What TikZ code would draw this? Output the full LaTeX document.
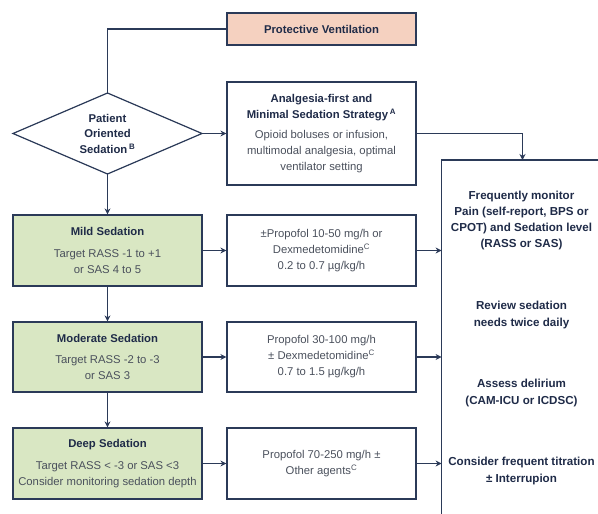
\documentclass[tikz,border=0pt]{standalone}
\usepackage{fontspec}
\setmainfont{Liberation Sans}
\usetikzlibrary{arrows.meta}
\definecolor{navy}{HTML}{2B3A58}
\definecolor{ttl}{HTML}{1F2B48}
\definecolor{bodyc}{HTML}{4A505C}
\definecolor{greenf}{HTML}{D9E7C3}
\definecolor{salmon}{HTML}{F5D1C0}
\begin{document}
\begin{tikzpicture}[x=1pt,y=-1pt,
  box/.style={draw=navy,line width=1.2pt,minimum width=189pt,inner sep=0pt,align=center,
    font=\fontsize{11.3}{16}\selectfont,text=bodyc},
  greenbox/.style={box,fill=greenf},
  txt/.style={align=center,inner sep=0pt,font=\fontsize{11.6}{16.3}\selectfont\bfseries,text=ttl},
  conn/.style={draw=navy,line width=1.2pt},
  arr/.style={conn,-{Stealth[length=6pt,width=6pt]}}
]
\useasboundingbox (0,0) rectangle (598,514);
\newcommand{\ttlt}[1]{{\bfseries\color{ttl}#1}}

% top boxes
\node[box,fill=salmon,minimum height=32pt] (pv) at (321.5,29) {\ttlt{Protective Ventilation}};
\node[box,minimum height=103pt] (ana) at (321.5,133.5)
  {\ttlt{Analgesia-first and}\\\ttlt{Minimal Sedation Strategy\,\textsuperscript{A}}\\[3.5pt]
   Opioid boluses or infusion,\\multimodal analgesia, optimal\\ventilator setting};

% diamond
\draw[conn,fill=white] (13,133.5) -- (107.5,93) -- (202,133.5) -- (107.5,174) -- cycle;
\node[inner sep=0pt,minimum width=189pt,minimum height=81pt] (dia) at (107.5,133.5) {};
\node[txt,font=\fontsize{11.3}{15.5}\selectfont\bfseries] (diat) at (107.5,133.5)
  {Patient\\Oriented\\Sedation\,\textsuperscript{B}};

% green boxes
\node[greenbox,minimum height=71pt] (mild) at (107.5,250.5)
  {\ttlt{Mild Sedation}\\[5.5pt]Target RASS -1 to +1\\or SAS 4 to 5};
\node[greenbox,minimum height=70pt] (mod) at (107.5,357)
  {\ttlt{Moderate Sedation}\\[5.5pt]Target RASS -2 to -3\\or SAS 3};
\node[greenbox,minimum height=71pt] (deep) at (107.5,463.5)
  {\ttlt{Deep Sedation}\\[5.5pt]Target RASS < -3 or SAS <3\\Consider monitoring sedation depth};

% middle boxes
\node[box,minimum height=71pt] (m1) at (321.5,250.5)
  {±Propofol 10-50 mg/h or\\Dexmedetomidine\textsuperscript{C}\\0.2 to 0.7 µg/kg/h};
\node[box,minimum height=70pt] (m2) at (321.5,357)
  {Propofol 30-100 mg/h\\± Dexmedetomidine\textsuperscript{C}\\0.7 to 1.5 µg/kg/h};
\node[box,minimum height=71pt] (m3) at (321.5,463.5)
  {Propofol 70-250 mg/h ±\\Other agents\textsuperscript{C}};

% right panel
\coordinate (ptl) at (441.6,160);
\coordinate (pbot) at (441.6,520);
\coordinate (pright) at (600,160);
\coordinate (pin) at (522.5,160);
\draw[conn] (pbot) -- (ptl) -- (pright);

\node[txt] (r1) at (521.5,220.5) {Frequently monitor\\Pain (self-report, BPS or\\CPOT) and Sedation level\\(RASS or SAS)};
\node[txt] (r2) at (521.5,315) {Review sedation\\needs twice daily};
\node[txt] (r3) at (521.5,393) {Assess delirium\\(CAM-ICU or ICDSC)};
\node[txt] (r4) at (521.5,471) {Consider frequent titration\\± Interrupion};

% connectors
\draw[conn] (pv.west) -| (dia.north);
\draw[arr] (dia.east) -- (ana.west);
\draw[arr] (ana.east) -| (pin);
\draw[arr] (dia.south) -- (mild.north);
\draw[arr] (mild.south) -- (mod.north);
\draw[arr] (mod.south) -- (deep.north);
\draw[arr] (mild.east) -- (m1.west);
\draw[arr] (mod.east) -- (m2.west);
\draw[arr] (deep.east) -- (m3.west);
\draw[arr] (m1.east) -- (m1.east -| ptl);
\draw[arr] (m2.east) -- (m2.east -| ptl);
\draw[arr] (m3.east) -- (m3.east -| ptl);
\end{tikzpicture}
\end{document}
